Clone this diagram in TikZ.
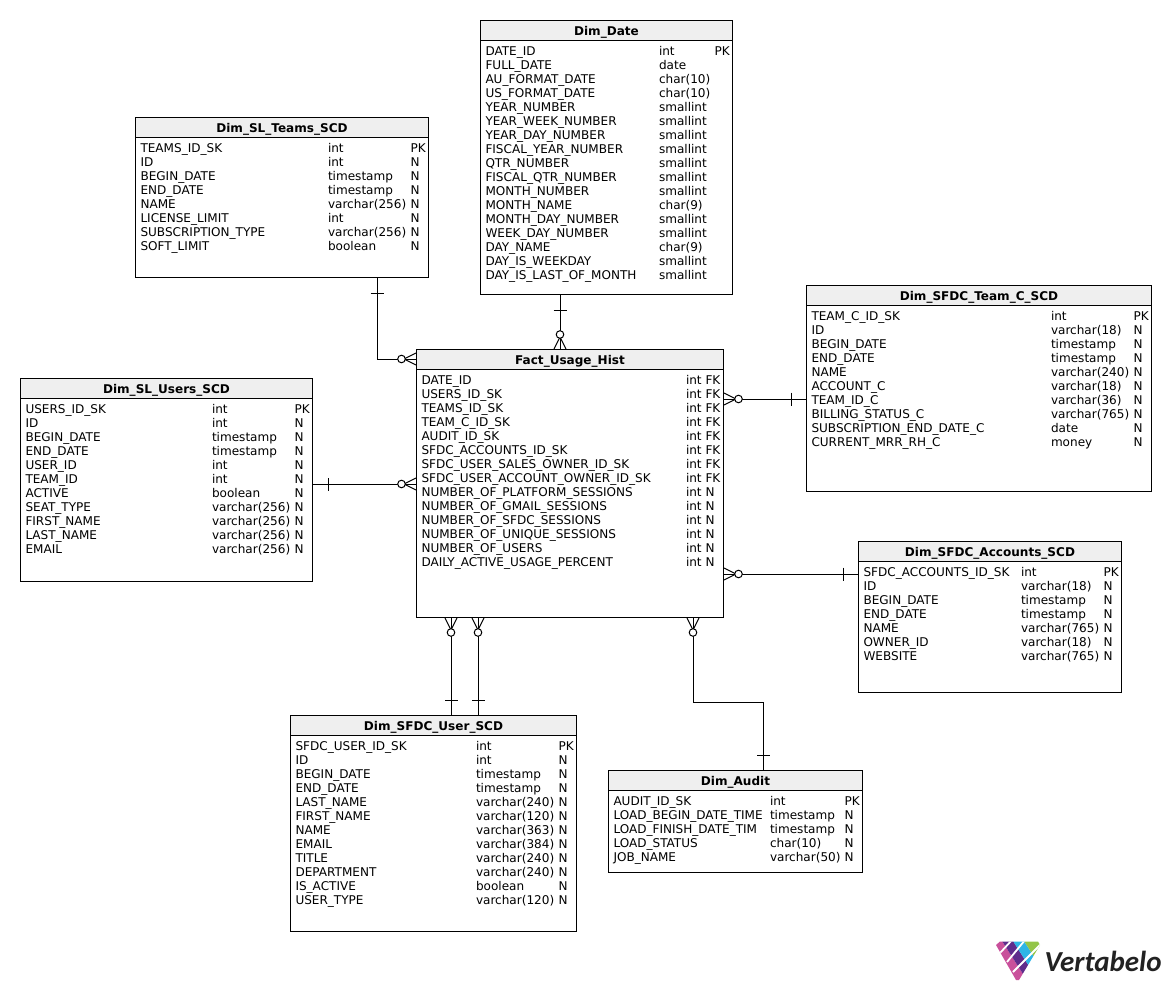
\documentclass[tikz,border=0pt]{standalone}
\usepackage{fontspec}
\setmainfont{DejaVu Sans}
\newfontfamily\logofont{Carlito}
\usepackage{xcolor}
\usepackage{tikz}
\usetikzlibrary{arrows.meta,positioning,calc,decorations.markings}
\definecolor{headgray}{HTML}{EFEFEF}
\definecolor{logotext}{HTML}{222222}
\definecolor{logopink}{HTML}{C9509B}
\definecolor{logopurple}{HTML}{5F2C8C}
\definecolor{logoblue}{HTML}{2DB5E6}
\definecolor{logogreen}{HTML}{93C548}
\newcommand{\rowfont}{\fontsize{12.05}{14}\selectfont}
% one table: name, left, top, right, bottom, column 2, column 3, title, rows
\newcommand{\dbtable}[9]{
  \node[tablebox,minimum width=#4pt-#2pt,minimum height=#5pt-#3pt] (#1) at (#2,#3) {};
  \node[headbox,minimum width=#4pt-#2pt] (#1head) at (#2,#3) {#8};
  \foreach \cola/\colb/\colc [count=\i from 0] in {#9}{
    \node[rowtext] (#1a\i) at (#2+5,#3+35.1+14*\i) {\cola};
    \node[rowtext] (#1b\i) at (#6-0.5,#3+35.1+14*\i) {\colb};
    \node[rowtext] (#1c\i) at (#7,#3+35.1+14*\i) {\colc};
  }
}
\begin{document}
\begin{tikzpicture}[x=1pt,y=-1pt,line width=1pt,
  tablebox/.style={rectangle,draw,anchor=north west,inner sep=0pt,fill=white},
  headbox/.style={rectangle,draw,anchor=north west,inner sep=0pt,minimum height=20pt,text height=10pt,text depth=0pt,fill=headgray,font=\rowfont\bfseries},
  rowtext/.style={anchor=base west,inner sep=0pt,font=\rowfont},
  onemark/.style={postaction={decorate,decoration={markings,mark=at position 15pt with {\draw[line width=1pt] (0,-6.5pt)--(0,6.5pt);}}}},
  manymark/.style={postaction={decorate,decoration={markings,mark=at position 1 with {
    \draw[line width=1pt] (-12pt,0)--(0,6pt) (-12pt,0)--(0,-6pt);
    \draw[line width=1pt,fill=white] (-14.5pt,0) circle (3.8pt);}}}}]
\useasboundingbox (0,0) rectangle (1171,991);

\dbtable{date}{480}{20}{732}{294}{659}{714}{Dim\_Date}{DATE\_ID/int/PK,FULL\_DATE/date/,AU\_FORMAT\_DATE/char(10)/,US\_FORMAT\_DATE/char(10)/,YEAR\_NUMBER/smallint/,YEAR\_WEEK\_NUMBER/smallint/,YEAR\_DAY\_NUMBER/smallint/,FISCAL\_YEAR\_NUMBER/smallint/,QTR\_NUMBER/smallint/,FISCAL\_QTR\_NUMBER/smallint/,MONTH\_NUMBER/smallint/,MONTH\_NAME/char(9)/,MONTH\_DAY\_NUMBER/smallint/,WEEK\_DAY\_NUMBER/smallint/,DAY\_NAME/char(9)/,DAY\_IS\_WEEKDAY/smallint/,DAY\_IS\_LAST\_OF\_MONTH/smallint/}
\dbtable{teams}{135}{117}{428}{277}{328}{410}{Dim\_SL\_Teams\_SCD}{TEAMS\_ID\_SK/int/PK,ID/int/N,BEGIN\_DATE/timestamp/N,END\_DATE/timestamp/N,NAME/varchar(256)/N,LICENSE\_LIMIT/int/N,SUBSCRIPTION\_TYPE/varchar(256)/N,SOFT\_LIMIT/boolean/N}
\dbtable{teamc}{806}{285}{1151}{491}{1051}{1133}{Dim\_SFDC\_Team\_C\_SCD}{TEAM\_C\_ID\_SK/int/PK,ID/varchar(18)/N,BEGIN\_DATE/timestamp/N,END\_DATE/timestamp/N,NAME/varchar(240)/N,ACCOUNT\_C/varchar(18)/N,TEAM\_ID\_C/varchar(36)/N,BILLING\_STATUS\_C/varchar(765)/N,SUBSCRIPTION\_END\_DATE\_C/date/N,CURRENT\_MRR\_RH\_C/money/N}
\dbtable{users}{20}{378}{312}{581}{212}{294}{Dim\_SL\_Users\_SCD}{USERS\_ID\_SK/int/PK,ID/int/N,BEGIN\_DATE/timestamp/N,END\_DATE/timestamp/N,USER\_ID/int/N,TEAM\_ID/int/N,ACTIVE/boolean/N,SEAT\_TYPE/varchar(256)/N,FIRST\_NAME/varchar(256)/N,LAST\_NAME/varchar(256)/N,EMAIL/varchar(256)/N}
\dbtable{fact}{416}{349}{723}{617}{686}{705}{Fact\_Usage\_Hist}{DATE\_ID/int/FK,USERS\_ID\_SK/int/FK,TEAMS\_ID\_SK/int/FK,TEAM\_C\_ID\_SK/int/FK,AUDIT\_ID\_SK/int/FK,SFDC\_ACCOUNTS\_ID\_SK/int/FK,SFDC\_USER\_SALES\_OWNER\_ID\_SK/int/FK,SFDC\_USER\_ACCOUNT\_OWNER\_ID\_SK/int/FK,NUMBER\_OF\_PLATFORM\_SESSIONS/int/N,NUMBER\_OF\_GMAIL\_SESSIONS/int/N,NUMBER\_OF\_SFDC\_SESSIONS/int/N,NUMBER\_OF\_UNIQUE\_SESSIONS/int/N,NUMBER\_OF\_USERS/int/N,DAILY\_ACTIVE\_USAGE\_PERCENT/int/N}
\dbtable{accounts}{858}{541}{1121}{692}{1021}{1103}{Dim\_SFDC\_Accounts\_SCD}{SFDC\_ACCOUNTS\_ID\_SK/int/PK,ID/varchar(18)/N,BEGIN\_DATE/timestamp/N,END\_DATE/timestamp/N,NAME/varchar(765)/N,OWNER\_ID/varchar(18)/N,WEBSITE/varchar(765)/N}
\dbtable{sfdcuser}{290}{715}{576}{931}{476}{558}{Dim\_SFDC\_User\_SCD}{SFDC\_USER\_ID\_SK/int/PK,ID/int/N,BEGIN\_DATE/timestamp/N,END\_DATE/timestamp/N,LAST\_NAME/varchar(240)/N,FIRST\_NAME/varchar(120)/N,NAME/varchar(363)/N,EMAIL/varchar(384)/N,TITLE/varchar(240)/N,DEPARTMENT/varchar(240)/N,IS\_ACTIVE/boolean/N,USER\_TYPE/varchar(120)/N}
\dbtable{audit}{608}{770}{862}{872}{770}{844}{Dim\_Audit}{AUDIT\_ID\_SK/int/PK,LOAD\_BEGIN\_DATE\_TIME/timestamp/N,LOAD\_FINISH\_DATE\_TIM/timestamp/N,LOAD\_STATUS/char(10)/N,JOB\_NAME/varchar(50)/N}

% connectors
\draw[onemark,manymark] (teams.south -| 377,0) |- (fact.west |- 0,359);
\draw[onemark,manymark] (date.south -| 560,0) -- (fact.north -| 560,0);
\draw[onemark,manymark] (teamc.west |- 0,399) -- (fact.east |- 0,399);
\draw[onemark,manymark] (users.east |- 0,484) -- (fact.west |- 0,484);
\draw[onemark,manymark] (accounts.west |- 0,574) -- (fact.east |- 0,574);
\draw[onemark,manymark] (sfdcuser.north -| 451,0) -- (fact.south -| 451,0);
\draw[onemark,manymark] (sfdcuser.north -| 478,0) -- (fact.south -| 478,0);
\draw[onemark,manymark] (audit.north -| 763,0) -- (763,702) -- (693,702) -- (fact.south -| 693,0);

% logo
\begin{scope}
\clip (996,945) -- (1000,941.5) -- (1038,941.5) -- (1040,945) -- (1019,980) -- (1016,980) -- cycle;
\fill[logopink] (990,941) -- (1002,941) -- (1030,985) -- (990,985) -- cycle;
\fill[logopurple] (1002,941) -- (1013,941) -- (1041,985) -- (1030,985) -- cycle;
\fill[logoblue] (1013,941) -- (1024,941) -- (1052,985) -- (1041,985) -- cycle;
\fill[logogreen] (1024,941) -- (1045,941) -- (1045,985) -- (1052,985) -- cycle;
\draw[white,line width=1.8pt] (1012,940) -- (1000,953);
\draw[white,line width=1.8pt] (1025,940) -- (1007,962);
\draw[white,line width=1.8pt] (1041,944) -- (1013,972);
\end{scope}
\node[anchor=base west,inner sep=0pt,text=logotext,font=\fontsize{29}{31}\selectfont\logofont\itshape\bfseries] (logo) at (1044,971) {Vertabelo};
\end{tikzpicture}
\end{document}
